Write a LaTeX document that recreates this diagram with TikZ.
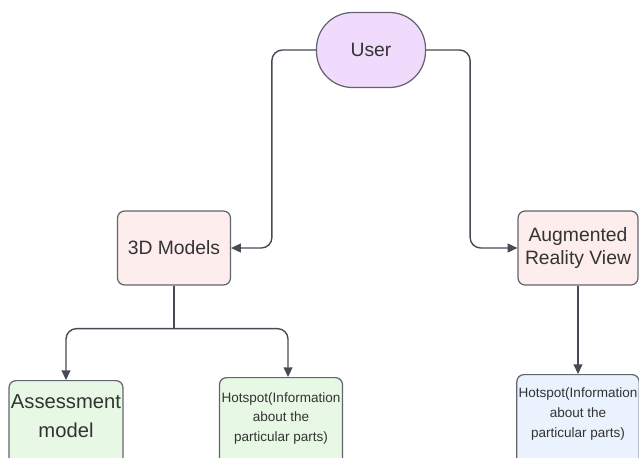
\documentclass[tikz,border=0pt]{standalone}
\usepackage{fontspec}
\setmainfont{Liberation Sans}
\usetikzlibrary{arrows.meta}
\definecolor{userfill}{RGB}{241,219,252}
\definecolor{pinkfill}{RGB}{253,237,236}
\definecolor{greenfill}{RGB}{231,248,228}
\definecolor{bluefill}{RGB}{234,242,253}
\definecolor{edgegray}{RGB}{100,100,110}
\definecolor{arrowgray}{RGB}{70,74,84}
\begin{document}
\begin{tikzpicture}[
        x=0.02cm,y=-0.02cm,
        bsty/.style={
            draw=edgegray,line width=0.7pt,
            rounded corners=4pt,
            align=center,inner sep=1pt,
            text=black!80,
        },
        fsty0/.style={fill=userfill,rounded corners=0.72cm},
        fsty1/.style={fill=pinkfill},
        fsty2/.style={fill=greenfill},
        fsty3/.style={fill=bluefill},
        bigtxt/.style={font=\fontsize{11}{13.5}\selectfont},
        smalltxt/.style={font=\fontsize{7.7}{11.3}\selectfont},
        lowsty/.style={anchor=north,minimum height=2cm},
        conn/.style={draw=arrowgray,line width=0.8pt,rounded corners=6pt,
            -{Triangle[length=5.5pt,width=5pt]}},
    ]
    \clip (0,0) rectangle (639,457);

    \node[bsty,fsty0,bigtxt,minimum width=2.18cm,minimum height=1.5cm] at (371,50) (user) {User};

    \node[bsty,fsty1,bigtxt,minimum width=2.26cm,minimum height=1.48cm] at (174,248) (models) {3D Models};
    \node[bsty,fsty1,bigtxt,minimum width=2.4cm,minimum height=1.48cm] at (578,248) (arview) {Augmented\\Reality View};

    % boxes run off the bottom edge
    \node[bsty,fsty2,lowsty,font=\fontsize{11.5}{16.5}\selectfont,minimum width=2.28cm,text depth=17pt] at (66,380) (assess) {Assessment\\model};
    \node[bsty,fsty2,lowsty,smalltxt,minimum width=2.46cm,text depth=12pt] at (281,377) (hot1) {Hotspot(Information\\about the\\particular parts)};
    \node[bsty,fsty3,lowsty,smalltxt,minimum width=2.4cm,text depth=14pt] at (578,374) (hot2) {Hotspot(Information\\about the\\particular parts)};

    \draw[conn] (user.west) -- ++(-44,0) |- (models.east);
    \draw[conn] (user.east) -- ++(44,0) |- (arview.west);

    \draw[conn,-] (models.south) -- ++(0,43) coordinate (split);
    \draw[conn] (split) -| (assess.north);
    \draw[conn] (split) -| ([xshift=4]hot1.north);
    \draw[conn] (arview.south) -- (hot2.north);
\end{tikzpicture}
\end{document}
